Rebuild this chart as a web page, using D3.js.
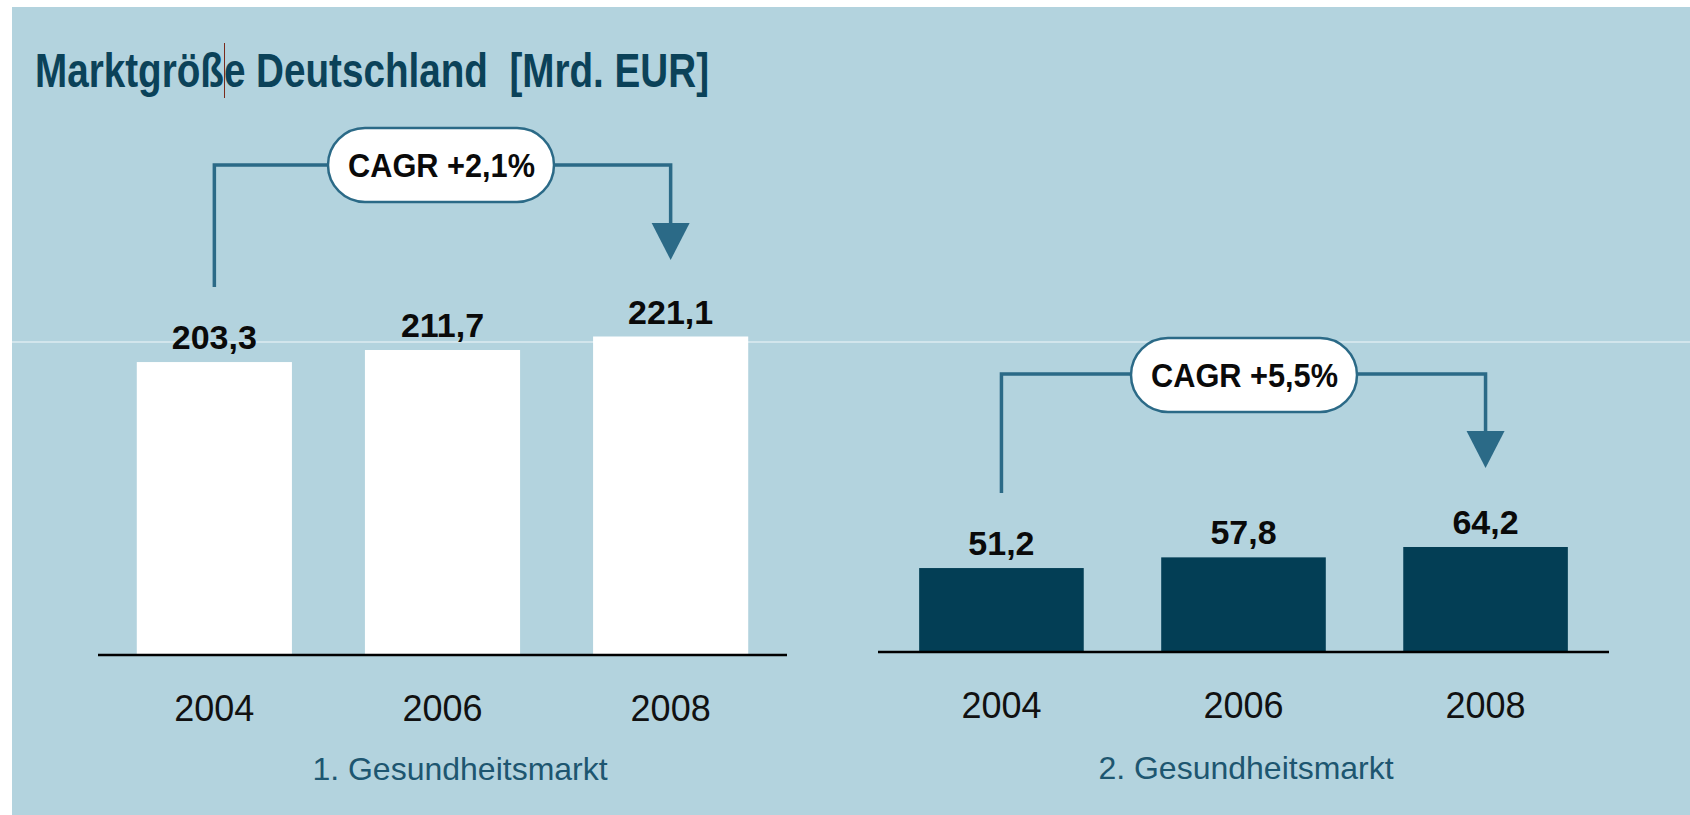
<!DOCTYPE html>
<html>
<head>
<meta charset="utf-8">
<script src="https://cdn.jsdelivr.net/npm/d3@7"></script>
<style>
  html, body { margin: 0; padding: 0; background: #ffffff; }
  svg { display: block; }
</style>
</head>
<body>
<svg id="chart" width="1690" height="815"></svg>
<script>
// ---- data ----
const chartTitle = "Marktgröße Deutschland  [Mrd. EUR]";
const years = ["2004", "2006", "2008"];
const market1Values = [203.3, 211.7, 221.1];
const market2Values = [51.2, 57.8, 64.2];
const cagrLabels = ["CAGR +2,1%", "CAGR +5,5%"];
const panelTitles = ["1. Gesundheitsmarkt", "2. Gesundheitsmarkt"];

// ---- layout / style ----
const FONT = "'Liberation Sans', Arial, sans-serif";
const BG = "#b3d3de";
const ACCENT = "#2b6a87";

const panels = [
  { values: market1Values, cagr: cagrLabels[0], title: panelTitles[0],
    x0: 98, x1: 787, base: 654, yMax: 250, top: 295, fill: "#ffffff",
    bracketY: 165, startBottom: 287, arrowTip: 260, pillCx: 441, pillCy: 165,
    subX: 460, yearY: 721, subY: 780 },
  { values: market2Values, cagr: cagrLabels[1], title: panelTitles[1],
    x0: 878, x1: 1609, base: 651, yMax: 100, top: 489, fill: "#033e55",
    bracketY: 374, startBottom: 493, arrowTip: 468, pillCx: 1244, pillCy: 375,
    subX: 1246, yearY: 718, subY: 779 }
];

const svg = d3.select("#chart");

// background panel
svg.append("rect").attr("x", 12).attr("y", 7).attr("width", 1690 - 12).attr("height", 815 - 7)
  .attr("fill", BG);
// thin light guide line
svg.append("line").attr("x1", 12).attr("x2", 1690).attr("y1", 342).attr("y2", 342)
  .attr("stroke", "#dcebf0").attr("stroke-width", 1.5);

// title
svg.append("text").attr("x", 35).attr("y", 87)
  .attr("font-family", FONT).attr("font-weight", "bold").attr("font-size", 48)
  .attr("fill", "#0b4259")
  .attr("textLength", 674).attr("lengthAdjust", "spacingAndGlyphs")
  .style("white-space", "pre")
  .text(chartTitle);
// text cursor artifact
svg.append("line").attr("x1", 224.5).attr("x2", 224.5).attr("y1", 43).attr("y2", 98)
  .attr("stroke", "#7a2b1c").attr("stroke-width", 1);

panels.forEach(p => {
  const g = svg.append("g");
  const x = d3.scaleBand().domain(years).range([p.x0, p.x1])
    .paddingInner(0.32).paddingOuter(0.17);
  const y = d3.scaleLinear().domain([0, p.yMax]).range([p.base, p.top]);
  const data = years.map((yr, i) => ({ year: yr, value: p.values[i] }));

  // bars
  g.selectAll("rect.bar").data(data).enter().append("rect")
    .attr("class", "bar")
    .attr("x", d => x(d.year)).attr("width", x.bandwidth())
    .attr("y", d => y(d.value)).attr("height", d => y(0) - y(d.value))
    .attr("fill", p.fill);

  // baseline axis
  const axis = d3.axisBottom(x).tickSize(0).tickPadding(0).tickFormat("");
  const ag = g.append("g").attr("transform", `translate(0,${p.base + 1})`).call(axis);
  ag.select(".domain").attr("d", `M${p.x0},0H${p.x1}`).attr("stroke", "#000").attr("stroke-width", 2.5);

  // year labels
  g.selectAll("text.year").data(data).enter().append("text")
    .attr("class", "year")
    .attr("x", d => x(d.year) + x.bandwidth() / 2).attr("y", p.yearY)
    .attr("text-anchor", "middle")
    .attr("font-family", FONT).attr("font-size", 36).attr("fill", "#111")
    .text(d => d.year);

  // value labels
  g.selectAll("text.val").data(data).enter().append("text")
    .attr("class", "val")
    .attr("x", d => x(d.year) + x.bandwidth() / 2).attr("y", d => y(d.value) - 13)
    .attr("text-anchor", "middle")
    .attr("font-family", FONT).attr("font-weight", "bold").attr("font-size", 34).attr("fill", "#0a0a0a")
    .text(d => d3.format(".1f")(d.value).replace(".", ","));

  // subtitle
  g.append("text").attr("x", p.subX).attr("y", p.subY).attr("text-anchor", "middle")
    .attr("font-family", FONT).attr("font-size", 32).attr("fill", "#1d5670")
    .text(p.title);

  // CAGR bracket
  const xs = x(years[0]) + x.bandwidth() / 2;
  const xe = x(years[years.length - 1]) + x.bandwidth() / 2;
  const triH = 37, triW = 38;
  g.append("path")
    .attr("d", `M${xs},${p.startBottom}V${p.bracketY}H${xe}V${p.arrowTip - triH + 2}`)
    .attr("fill", "none").attr("stroke", ACCENT).attr("stroke-width", 3.5);
  g.append("path")
    .attr("d", `M${xe - triW / 2},${p.arrowTip - triH}H${xe + triW / 2}L${xe},${p.arrowTip}Z`)
    .attr("fill", ACCENT);

  // pill
  const pw = 226, ph = 74;
  g.append("rect").attr("x", p.pillCx - pw / 2).attr("y", p.pillCy - ph / 2)
    .attr("width", pw).attr("height", ph).attr("rx", ph / 2).attr("ry", ph / 2)
    .attr("fill", "#ffffff").attr("stroke", ACCENT).attr("stroke-width", 2.5);
  g.append("text").attr("x", p.pillCx - 93).attr("y", p.pillCy + 12)
    .attr("font-family", FONT).attr("font-weight", "bold").attr("font-size", 34).attr("fill", "#0a0a0a")
    .attr("textLength", 187).attr("lengthAdjust", "spacingAndGlyphs")
    .text(p.cagr);
});
</script>
</body>
</html>
